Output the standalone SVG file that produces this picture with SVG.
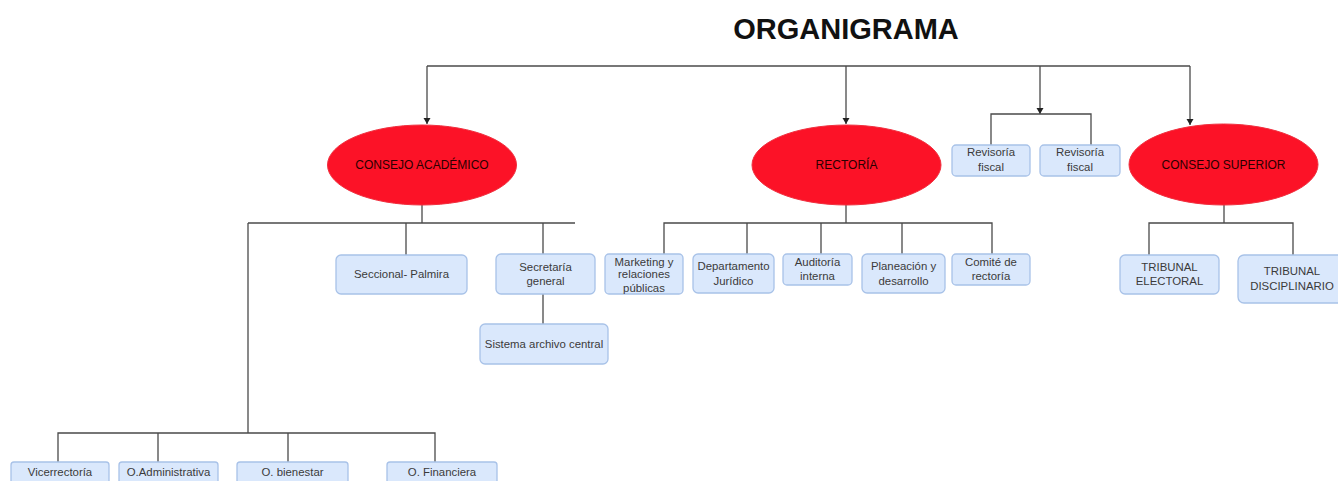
<svg xmlns="http://www.w3.org/2000/svg" width="1338" height="481" viewBox="0 0 1338 481">
<style>
.title{font-family:"Liberation Sans",Arial,sans-serif;font-size:29px;font-weight:bold;fill:#111;text-anchor:middle}
.ell{fill:#fc1227;stroke:#f0303f;stroke-width:1}
.et{font-family:"Liberation Sans",Arial,sans-serif;font-size:12px;fill:#2a0000;text-anchor:middle}
.box{fill:#dae8fc;stroke:#a8c2e8;stroke-width:1.3}
.bt{font-family:"Liberation Sans",Arial,sans-serif;font-size:11.4px;fill:#3a3a3a;text-anchor:middle}
.ln{fill:none;stroke:#4a4a4a;stroke-width:1.3}
</style>
<defs>
<marker id="arrd" markerWidth="8" markerHeight="8" refX="7" refY="4" orient="auto" markerUnits="userSpaceOnUse" viewBox="0 0 8 8">
<path d="M1,0.5 L7,4 L1,7.5 Z" fill="#222"/>
</marker>
</defs>
<rect width="1338" height="481" fill="#ffffff"/>
<text class="title" x="846" y="39">ORGANIGRAMA</text>

<g id="connectors">
<path class="ln" d="M427,66 H1190"/>
<path class="ln" d="M427,66 V124" marker-end="url(#arrd)"/>
<path class="ln" d="M846,66 V124" marker-end="url(#arrd)"/>
<path class="ln" d="M1040,66 V114" marker-end="url(#arrd)"/>
<path class="ln" d="M1190,66 V125" marker-end="url(#arrd)"/>
<path class="ln" d="M991,145 V114 H1091 V145"/>
<path class="ln" d="M422,205 V223"/>
<path class="ln" d="M248,223 H575"/>
<path class="ln" d="M406,223 V255"/>
<path class="ln" d="M543,223 V254"/>
<path class="ln" d="M543,294 V324"/>
<path class="ln" d="M248,223 V433"/>
<path class="ln" d="M58,462 V433 H435 V462"/>
<path class="ln" d="M158,433 V462"/>
<path class="ln" d="M288,433 V462"/>
<path class="ln" d="M846,205 V223"/>
<path class="ln" d="M664,254 V223 H992 V254"/>
<path class="ln" d="M747,223 V254"/>
<path class="ln" d="M821,223 V254"/>
<path class="ln" d="M902,223 V254"/>
<path class="ln" d="M1224,205 V223"/>
<path class="ln" d="M1149,255 V223 H1293 V255"/>
</g>

<g id="consejo-academico">
<ellipse class="ell" cx="422" cy="165" rx="94.5" ry="40"/>
<text class="et" x="422" y="169">CONSEJO ACADÉMICO</text>
</g>
<g id="rectoria">
<ellipse class="ell" cx="846.5" cy="165" rx="94.5" ry="40"/>
<text class="et" x="846.5" y="169">RECTORÍA</text>
</g>
<g id="consejo-superior">
<ellipse class="ell" cx="1223.5" cy="164.5" rx="94.5" ry="40.5"/>
<text class="et" x="1223.5" y="169">CONSEJO SUPERIOR</text>
</g>

<g id="revisoria-1">
<rect class="box" x="952" y="145" width="78" height="31" rx="4"/>
<text class="bt" x="991" y="156">Revisoría</text>
<text class="bt" x="991" y="171">fiscal</text>
</g>
<g id="revisoria-2">
<rect class="box" x="1040" y="145" width="80" height="31" rx="4"/>
<text class="bt" x="1080" y="156">Revisoría</text>
<text class="bt" x="1080" y="171">fiscal</text>
</g>

<g id="seccional">
<rect class="box" x="336" y="255" width="131" height="39" rx="5"/>
<text class="bt" x="401.5" y="278">Seccional- Palmira</text>
</g>
<g id="secretaria">
<rect class="box" x="496" y="254" width="99" height="40" rx="5"/>
<text class="bt" x="545.5" y="271">Secretaría</text>
<text class="bt" x="545.5" y="285">general</text>
</g>
<g id="sistema">
<rect class="box" x="480" y="324" width="128" height="40" rx="5"/>
<text class="bt" x="544" y="348">Sistema archivo central</text>
</g>

<g id="marketing">
<rect class="box" x="605" y="254" width="78" height="40" rx="4"/>
<text class="bt" x="644" y="266">Marketing y</text>
<text class="bt" x="644" y="278">relaciones</text>
<text class="bt" x="644" y="292">públicas</text>
</g>
<g id="juridico">
<rect class="box" x="693" y="254" width="81" height="39" rx="5"/>
<text class="bt" x="733.5" y="270">Departamento</text>
<text class="bt" x="733.5" y="285">Jurídico</text>
</g>
<g id="auditoria">
<rect class="box" x="783" y="254" width="69" height="31" rx="4"/>
<text class="bt" x="817.5" y="266">Auditoría</text>
<text class="bt" x="817.5" y="280">interna</text>
</g>
<g id="planeacion">
<rect class="box" x="862" y="254" width="83" height="39" rx="5"/>
<text class="bt" x="903.5" y="270">Planeación y</text>
<text class="bt" x="903.5" y="285">desarrollo</text>
</g>
<g id="comite">
<rect class="box" x="952" y="254" width="78" height="31" rx="4"/>
<text class="bt" x="991" y="266">Comité de</text>
<text class="bt" x="991" y="280">rectoría</text>
</g>

<g id="tribunal-electoral">
<rect class="box" x="1120" y="255" width="99" height="39" rx="5"/>
<text class="bt" x="1169.5" y="271">TRIBUNAL</text>
<text class="bt" x="1169.5" y="285">ELECTORAL</text>
</g>
<g id="tribunal-disciplinario">
<rect class="box" x="1238" y="255" width="108" height="48" rx="6"/>
<text class="bt" x="1292" y="275">TRIBUNAL</text>
<text class="bt" x="1292" y="290">DISCIPLINARIO</text>
</g>

<g id="vicerrectoria">
<rect class="box" x="11" y="462" width="98" height="26" rx="3"/>
<text class="bt" x="60" y="476">Vicerrectoría</text>
</g>
<g id="o-administrativa">
<rect class="box" x="119" y="462" width="99" height="26" rx="3"/>
<text class="bt" x="168.5" y="476">O.Administrativa</text>
</g>
<g id="o-bienestar">
<rect class="box" x="237" y="462" width="111" height="26" rx="3"/>
<text class="bt" x="292.5" y="476">O. bienestar</text>
</g>
<g id="o-financiera">
<rect class="box" x="387" y="462" width="110" height="26" rx="3"/>
<text class="bt" x="442" y="476">O. Financiera</text>
</g>
</svg>
